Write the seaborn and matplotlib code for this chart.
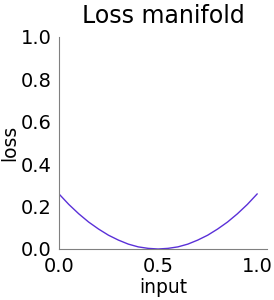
import matplotlib
matplotlib.use("Agg")
import matplotlib.pyplot as plt
import seaborn as sns
import pandas as pd

x_input = [0.0, 0.05, 0.1, 0.15, 0.2, 0.25, 0.3, 0.35, 0.4, 0.45, 0.5,
           0.55, 0.6, 0.65, 0.7, 0.75, 0.8, 0.85, 0.9, 0.95, 1.0]
loss = [0.26, 0.21, 0.166, 0.127, 0.094, 0.065, 0.042, 0.023, 0.010, 0.003, 0.0,
        0.003, 0.010, 0.023, 0.042, 0.065, 0.094, 0.127, 0.166, 0.21, 0.26]
x_ticks = [0.0, 0.5, 1.0]
y_ticks = [0.0, 0.2, 0.4, 0.6, 0.8, 1.0]

sns.set_style("white")
plt.rcParams['font.family'] = ['DejaVu Sans']
plt.rcParams['text.color'] = 'black'
plt.rcParams['axes.labelcolor'] = 'black'

df = pd.DataFrame({"input": x_input, "loss": loss})
fig, ax = plt.subplots(figsize=(2.74, 3.0), dpi=100)
sns.lineplot(data=df, x="input", y="loss", ax=ax, color="#5a30d8", linewidth=1.0)
ax.set_xlim(0, 1.05)
ax.set_ylim(0, 1.0)
ax.set_xticks(x_ticks)
ax.set_yticks(y_ticks)
ax.set_xticklabels([f"{t:.1f}" for t in x_ticks], fontsize=14)
ax.set_yticklabels([f"{t:.1f}" for t in y_ticks], fontsize=14)
ax.set_xlabel("input", fontsize=13.5, labelpad=2, color="black")
ax.set_ylabel("loss", fontsize=13.5, labelpad=1, color="black")
ax.set_title("Loss manifold", fontsize=17, color="black", pad=10)
for s in ["top", "right"]:
    ax.spines[s].set_visible(False)
for s in ["left", "bottom"]:
    ax.spines[s].set_color("#808080")
    ax.spines[s].set_linewidth(0.8)
ax.tick_params(axis="both", length=3.5, width=0.8, color="#808080", pad=2, labelcolor="black")
fig.subplots_adjust(left=0.215, right=0.975, bottom=0.17, top=0.877)
fig.savefig("out.png", dpi=100)
